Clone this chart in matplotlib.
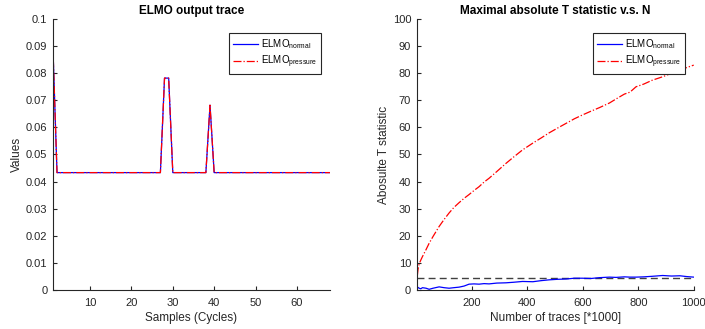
import matplotlib.pyplot as plt

plt.rcParams["font.family"] = ["Liberation Sans", "DejaVu Sans"]
plt.rcParams["mathtext.default"] = "regular"

# left panel: one ELMO output trace (both models give the same values)
samples = list(range(1, 69))
trace_normal = [
    0.0900,
    0.0433, 0.0433, 0.0433, 0.0433, 0.0433, 0.0433, 0.0433, 0.0433, 0.0433,
    0.0433, 0.0433, 0.0433, 0.0433, 0.0433, 0.0433, 0.0433, 0.0433, 0.0433,
    0.0433, 0.0433, 0.0433, 0.0433, 0.0433, 0.0433, 0.0433, 0.0433,
    0.0782, 0.0782,
    0.0433, 0.0433, 0.0433, 0.0433, 0.0433, 0.0433, 0.0433, 0.0433, 0.0433,
    0.0682,
    0.0433, 0.0433, 0.0433, 0.0433, 0.0433, 0.0433, 0.0433, 0.0433, 0.0433,
    0.0433, 0.0433, 0.0433, 0.0433, 0.0433, 0.0433, 0.0433, 0.0433, 0.0433,
    0.0433, 0.0433, 0.0433, 0.0433, 0.0433, 0.0433, 0.0433, 0.0433, 0.0433,
    0.0433, 0.0433,
]
trace_pressure = list(trace_normal)

# right panel: max |T| vs number of traces (*1000)
n_traces = [1, 3, 6, 10, 16, 22, 35, 46, 60, 82, 100, 118, 135, 154, 172,
            190, 208, 226, 244, 262, 290, 323, 350, 383, 420, 450, 479, 510,
            540, 570, 599, 630, 660, 696, 720, 750, 770, 792, 820, 850, 888,
            920, 950, 975, 1000]
t_pressure = [0.5, 4.8, 7.6, 9.6, 11.0, 12.3, 14.9, 17.2, 19.7, 23.4, 26.0,
              28.4, 30.4, 32.2, 33.8, 35.2, 36.7, 38.1, 39.8, 41.2, 43.7,
              46.7, 49.0, 51.7, 54.2, 56.1, 58.0, 59.8, 61.5, 63.2, 64.6, 66.0,
              67.3, 69.0, 70.5, 72.3, 73.0, 75.0, 76.0, 77.4, 78.7, 80.0, 81.2,
              82.1, 83.0]
t_normal = [0.2, 0.5, 0.9, 0.6, 0.4, 0.8, 0.6, 0.2, 0.6, 1.1, 0.8, 0.6, 0.8,
            1.0, 1.4, 2.1, 2.2, 2.1, 2.3, 2.2, 2.5, 2.6, 2.8, 3.1, 3.0, 3.4,
            3.7, 3.9, 4.0, 4.3, 4.3, 4.2, 4.5, 4.7, 4.6, 4.8, 4.7, 4.7, 4.8,
            5.0, 5.3, 5.1, 5.2, 4.9, 4.7]
threshold = 4.5

GRAY = "#262626"


def style_axes(ax):
    for side in ("top", "right"):
        ax.spines[side].set_visible(False)
    for side in ("left", "bottom"):
        ax.spines[side].set_color(GRAY)
        ax.spines[side].set_linewidth(0.8)
    ax.tick_params(direction="in", length=3, width=0.8, colors=GRAY,
                   labelsize=8, labelcolor=GRAY)
    ax.tick_params(axis="x", pad=6)
    ax.tick_params(axis="y", pad=4)


fig = plt.figure(figsize=(7.05, 3.29), dpi=100)
ax1 = fig.add_axes([0.075, 0.119, 0.393, 0.823])
ax2 = fig.add_axes([0.591, 0.119, 0.393, 0.823])

ax1.plot(samples, trace_normal, color="blue", lw=0.9,
         label=r"ELMO$_{normal}$")
ax1.plot(samples, trace_pressure, color="red", lw=0.9, ls="-.",
         label=r"ELMO$_{pressure}$")
ax1.set_xlim(1, 68)
ax1.set_ylim(0, 0.1)
ax1.set_xticks([10, 20, 30, 40, 50, 60])
yt = [i / 100 for i in range(11)]
ax1.set_yticks(yt)
ax1.set_yticklabels(["0"] + [f"{v:.2f}".rstrip("0") for v in yt[1:]])
ax1.set_xlabel("Samples (Cycles)", fontsize=8.5, color=GRAY, labelpad=3)
ax1.set_ylabel("Values", fontsize=8.5, color=GRAY, labelpad=2)
ax1.set_title("ELMO output trace", fontsize=8.5, fontweight="bold", pad=4)
style_axes(ax1)

ax2.plot([1, 1000], [threshold, threshold], color="#404040", lw=1.0,
         ls=(0, (5, 3)))
ax2.plot(n_traces, t_normal, color="blue", lw=0.9, label=r"ELMO$_{normal}$")
ax2.plot(n_traces, t_pressure, color="red", lw=0.9, ls="-.",
         label=r"ELMO$_{pressure}$")
ax2.set_xlim(1, 1000)
ax2.set_ylim(0, 100)
ax2.set_xticks([200, 400, 600, 800, 1000])
ax2.set_yticks(range(0, 101, 10))
ax2.set_xlabel("Number of traces [*1000]", fontsize=8.5, color=GRAY, labelpad=3)
ax2.set_ylabel("Abosulte T statistic", fontsize=8.5, color=GRAY, labelpad=2)
ax2.set_title("Maximal absolute T statistic v.s. N", fontsize=8.5,
              fontweight="bold", pad=4)
style_axes(ax2)

for ax in (ax1, ax2):
    leg = ax.legend(loc="upper right", fontsize=7, fancybox=False,
                    framealpha=1, edgecolor=GRAY, handlelength=2.6,
                    handletextpad=0.3, borderpad=0.4, labelspacing=0.3,
                    bbox_to_anchor=(0.985, 0.965))
    leg.get_frame().set_linewidth(0.8)

fig.savefig("out.png", dpi=100)
